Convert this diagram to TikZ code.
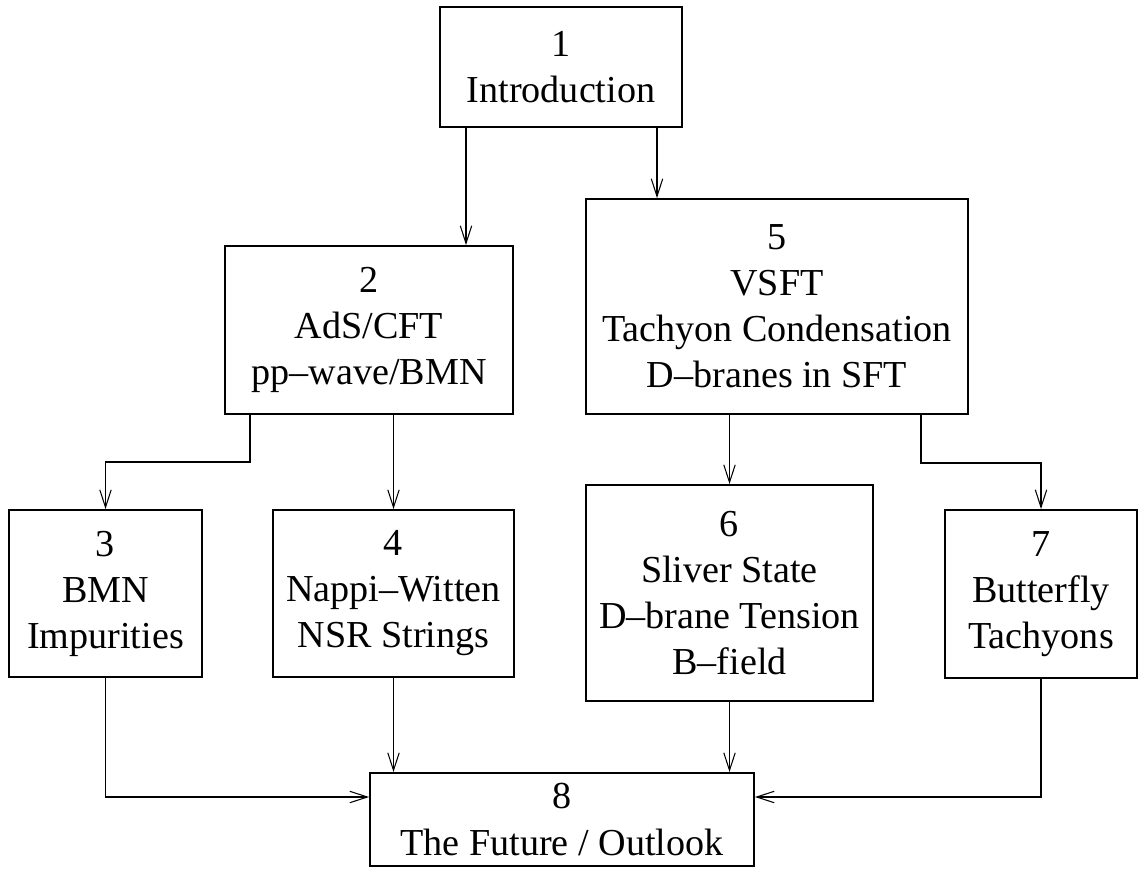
\documentclass[tikz,border=0pt]{standalone}
\usepackage{fontspec}
\setmainfont{Liberation Serif}
\usetikzlibrary{arrows.meta, positioning}

\begin{document}
\begin{tikzpicture}[
			x=0.02cm, y=-0.02cm,
			box/.style={rectangle, draw, line width=1.1pt, inner sep=0pt, align=center, font=\fontsize{21.7}{26.2}\selectfont},
			arrow/.style={-{Straight Barb[length=10pt, width=6.5pt]}, line width=0.6pt},
			]
			\useasboundingbox (0,0) rectangle (1139,869);
			
			% Nodes
			\node (intro) [box, minimum width=4.84cm, minimum height=2.40cm] at (561,67) {1\\Introduction};
			\node (ads) [box, minimum width=5.76cm, minimum height=3.36cm] at (369,330) {2\\AdS/CFT\\pp\textendash wave/BMN};
			\node (vsft) [box, minimum width=7.64cm, minimum height=4.30cm] at (777,306.5) {5\\VSFT\\Tachyon Condensation\\D\textendash branes in SFT};
			\node (bmn) [box, minimum width=3.86cm, minimum height=3.34cm] at (105.5,593.5) {3\\BMN\\Impurities};
			\node (nappi) [box, minimum width=4.82cm, minimum height=3.34cm] at (393.5,593.5) {4\\Nappi\textendash Witten\\NSR Strings};
			\node (sliver) [box, minimum width=5.74cm, minimum height=4.32cm] at (729.5,593) {6\\Sliver State\\D\textendash brane Tension\\B\textendash field};
			\node (butterfly) [box, minimum width=3.84cm, minimum height=3.36cm] at (1041,594) {7\\Butterfly\\Tachyons};
			\node (outlook) [box, minimum width=7.68cm, minimum height=1.86cm] at (562,819.5) {8\\The Future / Outlook};
			
			% Arrows
			\draw[arrow] (intro.south -| 466,0) -- (ads.north -| 466,0);
			\draw[arrow] (intro.south -| 657,0) -- (vsft.north -| 657,0);
			\draw[arrow] (ads.south -| 250,0) |- (bmn.north |- 0,462) -- (bmn.north);
			\draw[arrow] (ads.south -| nappi.north) -- (nappi.north);
			\draw[arrow] (vsft.south -| sliver.north) -- (sliver.north);
			\draw[arrow] (vsft.south -| 921,0) |- (butterfly.north |- 0,463) -- (butterfly.north);
			\draw[arrow] (bmn.south) |- (outlook.west |- 0,797);
			\draw[arrow] (nappi.south) -- (outlook.north -| nappi.south);
			\draw[arrow] (sliver.south) -- (outlook.north -| sliver.south);
			\draw[arrow] (butterfly.south) |- (outlook.east |- 0,797);
		\end{tikzpicture}
\end{document}
